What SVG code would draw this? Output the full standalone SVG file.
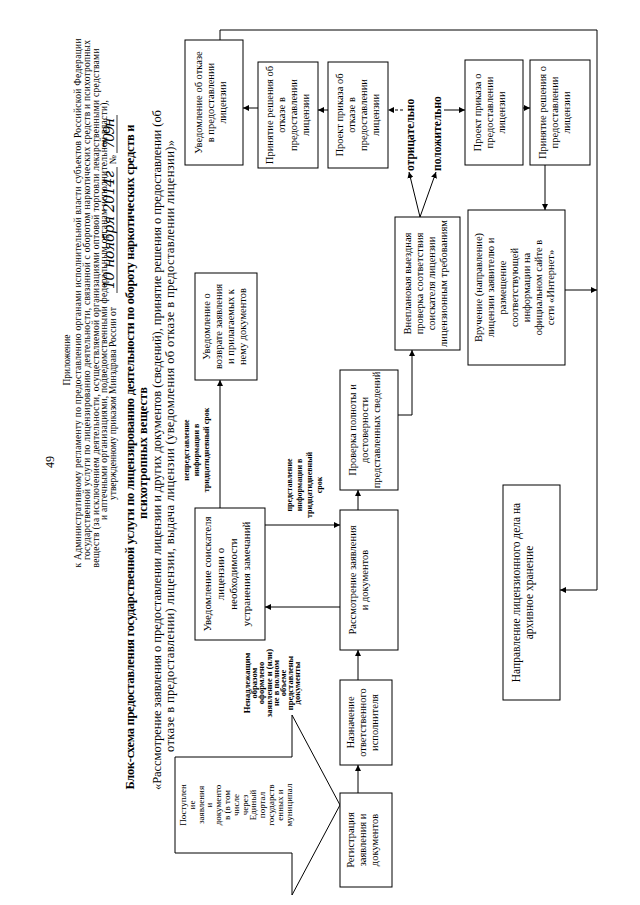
<svg xmlns="http://www.w3.org/2000/svg" width="640" height="905" viewBox="0 0 640 905">
<defs>
<marker id="ah" viewBox="0 0 10 10" refX="10" refY="5" markerWidth="6" markerHeight="6" orient="auto-start-reverse" markerUnits="userSpaceOnUse"><path d="M0,0 L10,5 L0,10 z" fill="#000"/></marker>
<style>
text{font-family:"Liberation Serif","Times New Roman",serif;fill:#000}
.bx rect{fill:#fff;stroke:#000;stroke-width:1}
.bt{font-size:10.5px;text-anchor:middle}
.hd{font-size:9.5px;text-anchor:middle}
.tt{font-size:12.5px;font-weight:bold;text-anchor:middle}
.st{font-size:12.5px;text-anchor:middle}
.lb{font-size:8.5px;font-weight:bold;text-anchor:middle}
.yn{font-size:11.5px;font-weight:bold}
.hw{font-family:"DejaVu Serif",serif;font-style:italic;font-size:14px}
#conn path,#conn line{fill:none;stroke:#000;stroke-width:1}
</style>
</defs>
<rect width="640" height="905" fill="#fff"/>
<g transform="translate(0,905) rotate(-90)">
<g id="header">
<text x="443" y="54" style="font-size:12px;text-anchor:middle">49</text>
<text x="545" y="70" class="hd">Приложение</text>
<text x="602" y="81" class="hd" textLength="529">к Административному регламенту по предоставлению органами исполнительной власти субъектов Российской Федерации</text>
<text x="605" y="90" class="hd" textLength="520">государственной услуги по лицензированию деятельности, связанной с оборотом наркотических средств и психотропных</text>
<text x="597" y="99" class="hd" textLength="519">веществ (за исключением деятельности, осуществляемой организациями оптовой торговли лекарственными средствами</text>
<text x="595" y="107" class="hd" textLength="420">и аптечными организациями, подведомственными федеральным органам исполнительной власти),</text>
<text x="405" y="116" style="font-size:9.5px">утвержденному приказом Минздрава России от</text>
<text x="616" y="114" class="hw" textLength="118">10 ноября 2014г</text>
<line x1="612" y1="117" x2="738" y2="117" stroke="#000" stroke-width="0.8"/>
<text x="741" y="116" style="font-size:9.5px">№</text>
<text x="756" y="114" class="hw" textLength="31">709н</text>
<line x1="752" y1="117" x2="790" y2="117" stroke="#000" stroke-width="0.8"/>
</g>
<g id="title">
<text x="448" y="134" class="tt" textLength="665">Блок-схема предоставления государственной услуги по лицензированию деятельности по обороту наркотических средств и</text>
<text x="452" y="147" class="tt">психотропных веществ</text>
<text x="455" y="161" class="st" textLength="680">«Рассмотрение заявления о предоставлении лицензии и других документов (сведений), принятие решения о предоставлении (об</text>
<text x="459" y="174" class="st" textLength="612">отказе в предоставлении) лицензии, выдача лицензии (уведомления об отказе в предоставлении лицензии)»</text>
</g>
<g id="conn">
<line x1="112" y1="358" x2="140" y2="358" marker-end="url(#ah)"/>
<line x1="225" y1="358" x2="255" y2="358" marker-end="url(#ah)"/>
<line x1="395" y1="358" x2="415" y2="358" marker-end="url(#ah)"/>
<line x1="298" y1="340" x2="298" y2="265" marker-end="url(#ah)"/>
<line x1="380" y1="265" x2="380" y2="340" marker-end="url(#ah)"/>
<line x1="397" y1="220" x2="525" y2="220" marker-end="url(#ah)"/>
<path d="M490,398 V412 H555" marker-end="url(#ah)"/>
<line x1="688" y1="420" x2="733" y2="409" marker-end="url(#ah)"/>
<line x1="688" y1="420" x2="733" y2="436" marker-end="url(#ah)"/>
<line x1="795" y1="403" x2="795" y2="388" stroke-dasharray="3,2" marker-end="url(#ah)"/>
<line x1="795" y1="444" x2="795" y2="465" marker-end="url(#ah)"/>
<line x1="795" y1="328" x2="795" y2="318" marker-end="url(#ah)"/>
<line x1="797" y1="258" x2="797" y2="243" marker-end="url(#ah)"/>
<line x1="797" y1="523" x2="797" y2="530" marker-end="url(#ah)"/>
<line x1="740" y1="545" x2="695" y2="545" marker-end="url(#ah)"/>
<line x1="615" y1="565" x2="615" y2="597" marker-end="url(#ah)"/>
<path d="M865,220 H875 V597 H315 V560" marker-end="url(#ah)"/>
<text x="734" y="414" class="yn">отрицательно</text>
<text x="734" y="441" class="yn">положительно</text>
<text class="lb"><tspan x="222" y="250">Ненадлежащим</tspan><tspan x="222" dy="7.2">образом</tspan><tspan x="222" dy="7.2">оформлено</tspan><tspan x="222" dy="7.2">заявление и (или)</tspan><tspan x="222" dy="7.2">не в полном</tspan><tspan x="222" dy="7.2">объеме</tspan><tspan x="222" dy="7.2">представлены</tspan><tspan x="222" dy="7.2">документы</tspan></text>
<text class="lb" style="font-size:8px"><tspan x="420" y="292">представление</tspan><tspan x="420" dy="10">информации в</tspan><tspan x="420" dy="10">тридцатидневный</tspan><tspan x="420" dy="10">срок</tspan></text>
<text class="lb" style="font-size:8px"><tspan x="455" y="189">непредставление</tspan><tspan x="455" dy="10">информации в</tspan><tspan x="455" dy="10">тридцатидневный срок</tspan></text>
</g>
<g id="n_postup">
<polygon points="52,175 148,175 148,292 190,292 100,340 10,292 52,292" fill="#fff" stroke="#000" stroke-width="1"/>
<text class="bt" style="font-size:9px"><tspan x="100" y="186">Поступлен</tspan><tspan x="100" dy="8.8">ие</tspan><tspan x="100" dy="8.8">заявления</tspan><tspan x="100" dy="8.8">и</tspan><tspan x="100" dy="8.8">документо</tspan><tspan x="100" dy="8.8">в (в том</tspan><tspan x="100" dy="8.8">числе</tspan><tspan x="100" dy="8.8">через</tspan><tspan x="100" dy="8.8">Единый</tspan><tspan x="100" dy="8.8">портал</tspan><tspan x="100" dy="8.8">государств</tspan><tspan x="100" dy="8.8">енных и</tspan><tspan x="100" dy="8.8">муниципал</tspan></text>
</g>
<g id="n_reg" class="bx"><rect x="18" y="340" width="94" height="52"/><text class="bt"><tspan x="65" y="354">Регистрация</tspan><tspan x="65" dy="12">заявления и</tspan><tspan x="65" dy="12">документов</tspan></text></g>
<g id="n_naz" class="bx"><rect x="140" y="340" width="85" height="52"/><text class="bt"><tspan x="182.5" y="354">Назначение</tspan><tspan x="182.5" dy="12">ответственного</tspan><tspan x="182.5" dy="12">исполнителя</tspan></text></g>
<g id="n_rassm" class="bx"><rect x="255" y="340" width="140" height="58"/><text class="bt"><tspan x="325" y="356">Рассмотрение заявления</tspan><tspan x="325" dy="12">и документов</tspan></text></g>
<g id="n_prov" class="bx"><rect x="415" y="340" width="120" height="58"/><text class="bt"><tspan x="475" y="356">Проверка полноты и</tspan><tspan x="475" dy="12">достоверности</tspan><tspan x="475" dy="12">представленных сведений</tspan></text></g>
<g id="n_vnepl" class="bx"><rect x="555" y="395" width="133" height="65"/><text class="bt"><tspan x="621.5" y="411">Внеплановая выездная</tspan><tspan x="621.5" dy="12">проверка соответствия</tspan><tspan x="621.5" dy="12">соискателя лицензии</tspan><tspan x="621.5" dy="12">лицензионным требованиям</tspan></text></g>
<g id="n_proj_otk" class="bx"><rect x="737" y="328" width="106" height="60"/><text class="bt"><tspan x="790" y="343">Проект приказа об</tspan><tspan x="790" dy="12">отказе в</tspan><tspan x="790" dy="12">предоставлении</tspan><tspan x="790" dy="12">лицензии</tspan></text></g>
<g id="n_prin_otk" class="bx"><rect x="737" y="258" width="106" height="60"/><text class="bt"><tspan x="790" y="273">Принятие решения об</tspan><tspan x="790" dy="12">отказе в</tspan><tspan x="790" dy="12">предоставлении</tspan><tspan x="790" dy="12">лицензии</tspan></text></g>
<g id="n_uv_otk" class="bx"><rect x="740" y="185" width="125" height="58"/><text class="bt"><tspan x="802.5" y="202">Уведомление об отказе</tspan><tspan x="802.5" dy="12">в предоставлении</tspan><tspan x="802.5" dy="12">лицензии</tspan></text></g>
<g id="n_proj_pr" class="bx"><rect x="740" y="465" width="105" height="58"/><text class="bt"><tspan x="792.5" y="481">Проект приказа о</tspan><tspan x="792.5" dy="12">предоставлении</tspan><tspan x="792.5" dy="12">лицензии</tspan></text></g>
<g id="n_prin_pr" class="bx"><rect x="740" y="530" width="105" height="60"/><text class="bt"><tspan x="792.5" y="546">Принятие решения о</tspan><tspan x="792.5" dy="12">предоставлении</tspan><tspan x="792.5" dy="12">лицензии</tspan></text></g>
<g id="n_vruch" class="bx"><rect x="540" y="468" width="155" height="97"/><text class="bt"><tspan x="617.5" y="482">Вручение (направление)</tspan><tspan x="617.5" dy="12">лицензии заявителю и</tspan><tspan x="617.5" dy="12">размещение</tspan><tspan x="617.5" dy="12">соответствующей</tspan><tspan x="617.5" dy="12">информации на</tspan><tspan x="617.5" dy="12">официальном сайте в</tspan><tspan x="617.5" dy="12">сети «Интернет»</tspan></text></g>
<g id="n_arch" class="bx"><rect x="205" y="503" width="215" height="57"/><text class="bt" style="font-size:11.5px"><tspan x="312.5" y="520">Направление лицензионного дела на</tspan><tspan x="312.5" dy="13">архивное хранение</tspan></text></g>
<g id="n_uv_zam" class="bx"><rect x="265" y="195" width="132" height="70"/><text class="bt" style="font-size:11px"><tspan x="331" y="211">Уведомление соискателя</tspan><tspan x="331" dy="13">лицензии о</tspan><tspan x="331" dy="13">необходимости</tspan><tspan x="331" dy="13">устранения замечаний</tspan></text></g>
<g id="n_uv_vozv" class="bx"><rect x="525" y="195" width="107" height="62"/><text class="bt"><tspan x="578.5" y="210">Уведомление о</tspan><tspan x="578.5" dy="12">возврате заявления</tspan><tspan x="578.5" dy="12">и прилагаемых к</tspan><tspan x="578.5" dy="12">нему документов</tspan></text></g>
</g>
</svg>
